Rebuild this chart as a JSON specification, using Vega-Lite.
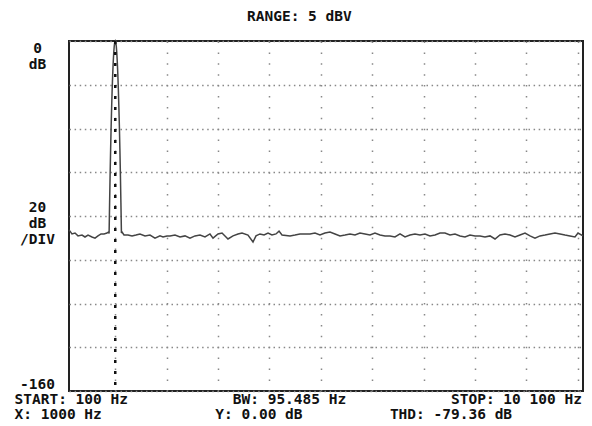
{
  "$schema": "https://vega.github.io/schema/vega-lite/v6.json",
  "width": 514,
  "height": 350,
  "autosize": {"type": "none"},
  "padding": {"left": 69, "top": 41, "right": 9, "bottom": 35},
  "background": "white",
  "config": {
    "view": {"stroke": "#222", "strokeWidth": 2},
    "font": "DejaVu Sans Mono"
  },
  "title": {
    "text": "RANGE: 5 dBV",
    "anchor": "start",
    "frame": "group",
    "dx": 178,
    "offset": 3,
    "baseline": "alphabetic",
    "font": "DejaVu Sans Mono",
    "fontSize": 14.5,
    "fontWeight": "bold",
    "color": "#111"
  },
  "layer": [
    {
      "data": {
        "values": [
          {"f": 100, "db": -86.4}, {"f": 119, "db": -86.9}, {"f": 158, "db": -88.2}, {"f": 217, "db": -87.8},
          {"f": 275, "db": -89.1}, {"f": 353, "db": -88.7}, {"f": 411, "db": -89.6}, {"f": 470, "db": -88.7},
          {"f": 547, "db": -89.6}, {"f": 606, "db": -90.1}, {"f": 664, "db": -89.1}, {"f": 723, "db": -88.2},
          {"f": 781, "db": -88.2}, {"f": 839, "db": -87.8}, {"f": 870, "db": -87.3},
          {"f": 880, "db": -88}, {"f": 890, "db": -74}, {"f": 900, "db": -61}, {"f": 910, "db": -49.4},
          {"f": 920, "db": -39}, {"f": 930, "db": -29.9}, {"f": 940, "db": -22}, {"f": 950, "db": -15.3},
          {"f": 960, "db": -9.8}, {"f": 970, "db": -5.5}, {"f": 980, "db": -2.4}, {"f": 990, "db": -0.6},
          {"f": 1000, "db": 0}, {"f": 1010, "db": -0.6}, {"f": 1020, "db": -2.4}, {"f": 1030, "db": -5.5},
          {"f": 1040, "db": -9.8}, {"f": 1050, "db": -15.3}, {"f": 1060, "db": -22}, {"f": 1070, "db": -29.9},
          {"f": 1080, "db": -39}, {"f": 1090, "db": -49.4}, {"f": 1100, "db": -61}, {"f": 1110, "db": -74},
          {"f": 1120, "db": -87.8},
          {"f": 1131, "db": -87.3}, {"f": 1170, "db": -88.7}, {"f": 1248, "db": -88.7}, {"f": 1326, "db": -89.1},
          {"f": 1403, "db": -88.7}, {"f": 1481, "db": -88.2}, {"f": 1579, "db": -89.1}, {"f": 1676, "db": -88.7},
          {"f": 1773, "db": -90.1}, {"f": 1870, "db": -89.1}, {"f": 1929, "db": -89.6}, {"f": 2007, "db": -89.1},
          {"f": 2065, "db": -89.1}, {"f": 2162, "db": -88.7}, {"f": 2260, "db": -89.6}, {"f": 2357, "db": -89.1},
          {"f": 2454, "db": -90.1}, {"f": 2551, "db": -89.1}, {"f": 2649, "db": -88.7}, {"f": 2746, "db": -89.6},
          {"f": 2843, "db": -88.2}, {"f": 2902, "db": -90.1}, {"f": 2999, "db": -88.2}, {"f": 3077, "db": -87.8},
          {"f": 3154, "db": -89.6}, {"f": 3193, "db": -90.5}, {"f": 3291, "db": -89.1}, {"f": 3388, "db": -88.2},
          {"f": 3466, "db": -87.8}, {"f": 3582, "db": -88.7}, {"f": 3680, "db": -91.9}, {"f": 3738, "db": -89.1},
          {"f": 3816, "db": -88.2}, {"f": 3894, "db": -88.7}, {"f": 3972, "db": -87.8}, {"f": 4049, "db": -88.7},
          {"f": 4127, "db": -88.2}, {"f": 4186, "db": -86.9}, {"f": 4244, "db": -88.7}, {"f": 4400, "db": -89.1},
          {"f": 4497, "db": -88.7}, {"f": 4594, "db": -88.2}, {"f": 4789, "db": -88.2}, {"f": 4886, "db": -87.8},
          {"f": 4983, "db": -88.7}, {"f": 5080, "db": -87.8}, {"f": 5178, "db": -87.3}, {"f": 5275, "db": -88.2},
          {"f": 5372, "db": -89.1}, {"f": 5470, "db": -88.7}, {"f": 5567, "db": -88.2}, {"f": 5664, "db": -88.7},
          {"f": 5761, "db": -87.8}, {"f": 5859, "db": -88.2}, {"f": 5956, "db": -88.7}, {"f": 6053, "db": -87.8},
          {"f": 6151, "db": -88.7}, {"f": 6248, "db": -89.1}, {"f": 6345, "db": -89.1}, {"f": 6442, "db": -89.6},
          {"f": 6540, "db": -88.2}, {"f": 6637, "db": -89.6}, {"f": 6734, "db": -88.7}, {"f": 6831, "db": -88.2},
          {"f": 6929, "db": -88.7}, {"f": 7026, "db": -88.2}, {"f": 7123, "db": -89.1}, {"f": 7221, "db": -88.7},
          {"f": 7318, "db": -87.8}, {"f": 7415, "db": -87.8}, {"f": 7512, "db": -88.7}, {"f": 7610, "db": -88.2},
          {"f": 7707, "db": -89.1}, {"f": 7804, "db": -89.6}, {"f": 7901, "db": -88.7}, {"f": 7999, "db": -89.1},
          {"f": 8096, "db": -89.1}, {"f": 8193, "db": -89.6}, {"f": 8291, "db": -89.1}, {"f": 8388, "db": -90.5},
          {"f": 8485, "db": -88.7}, {"f": 8582, "db": -88.2}, {"f": 8680, "db": -88.7}, {"f": 8777, "db": -89.6},
          {"f": 8874, "db": -88.7}, {"f": 8972, "db": -87.8}, {"f": 9069, "db": -89.1}, {"f": 9166, "db": -90.1},
          {"f": 9263, "db": -89.1}, {"f": 9361, "db": -88.7}, {"f": 9458, "db": -88.2}, {"f": 9555, "db": -87.8},
          {"f": 9653, "db": -88.2}, {"f": 9750, "db": -88.7}, {"f": 9847, "db": -89.1}, {"f": 9944, "db": -89.6},
          {"f": 10003, "db": -87.8}, {"f": 10100, "db": -89.1}
        ]
      },
      "mark": {"type": "line", "color": "#444", "strokeWidth": 1.5},
      "encoding": {
        "x": {
          "field": "f",
          "type": "quantitative",
          "scale": {"domain": [100, 10100], "nice": false, "zero": false},
          "axis": {
            "values": [1000, 2000, 3000, 4000, 5000, 6000, 7000, 8000, 9000, 10000],
            "labels": false,
            "ticks": false,
            "domain": false,
            "grid": true,
            "gridDash": [1.5, 9.4],
            "gridColor": "#888",
            "gridWidth": 1.5,
            "title": [
              "START: 100 Hz\u00a0\u00a0\u00a0\u00a0\u00a0\u00a0\u00a0\u00a0\u00a0\u00a0\u00a0\u00a0BW: 95.485 Hz\u00a0\u00a0\u00a0\u00a0\u00a0\u00a0\u00a0\u00a0\u00a0\u00a0\u00a0\u00a0STOP: 10 100 Hz",
              "X: 1000 Hz\u00a0\u00a0\u00a0\u00a0\u00a0\u00a0\u00a0\u00a0\u00a0\u00a0\u00a0\u00a0\u00a0Y: 0.00 dB\u00a0\u00a0\u00a0\u00a0\u00a0\u00a0\u00a0\u00a0\u00a0\u00a0THD: -79.36 dB"
            ],
            "titleFont": "DejaVu Sans Mono",
            "titleFontSize": 14.5,
            "titleFontWeight": "bold",
            "titleColor": "#111",
            "titleAnchor": "start",
            "titleAlign": "left",
            "titleBaseline": "top",
            "titleX": -55,
            "titleY": 1,
            "titleLineHeight": 15
          }
        },
        "y": {
          "field": "db",
          "type": "quantitative",
          "scale": {"domain": [-160, 0], "nice": false, "zero": false},
          "axis": {
            "values": [0, -20, -40, -60, -80, -100, -120, -140, -160],
            "grid": true,
            "gridDash": [1.5, 3.6],
            "gridColor": "#888",
            "gridWidth": 1.5,
            "ticks": false,
            "tickSize": 0,
            "domain": false,
            "title": null,
            "labelExpr": "datum.value == 0 ? ['0', 'dB'] : datum.value == -80 ? ['20', 'dB', '/DIV'] : datum.value == -160 ? '-160' : ''",
            "labelAlign": "center",
            "labelPadding": 32,
            "labelFont": "DejaVu Sans Mono",
            "labelFontSize": 14.5,
            "labelFontWeight": "bold",
            "labelColor": "#111",
            "labelLineHeight": 16,
            "labelBaseline": {"expr": "datum.value == 0 ? 'top' : datum.value == -160 ? 'bottom' : 'middle'"},
            "labelOffset": {"expr": "datum.value == -80 ? -9 : 0"},
            "labelOverlap": false,
            "labelBound": false,
            "labelFlush": false
          }
        }
      }
    },
    {
      "data": {"values": [{"f": 1000}]},
      "mark": {"type": "rule", "color": "#111", "strokeWidth": 2.5, "strokeDash": [3, 8]},
      "encoding": {"x": {"field": "f", "type": "quantitative"}}
    }
  ]
}
